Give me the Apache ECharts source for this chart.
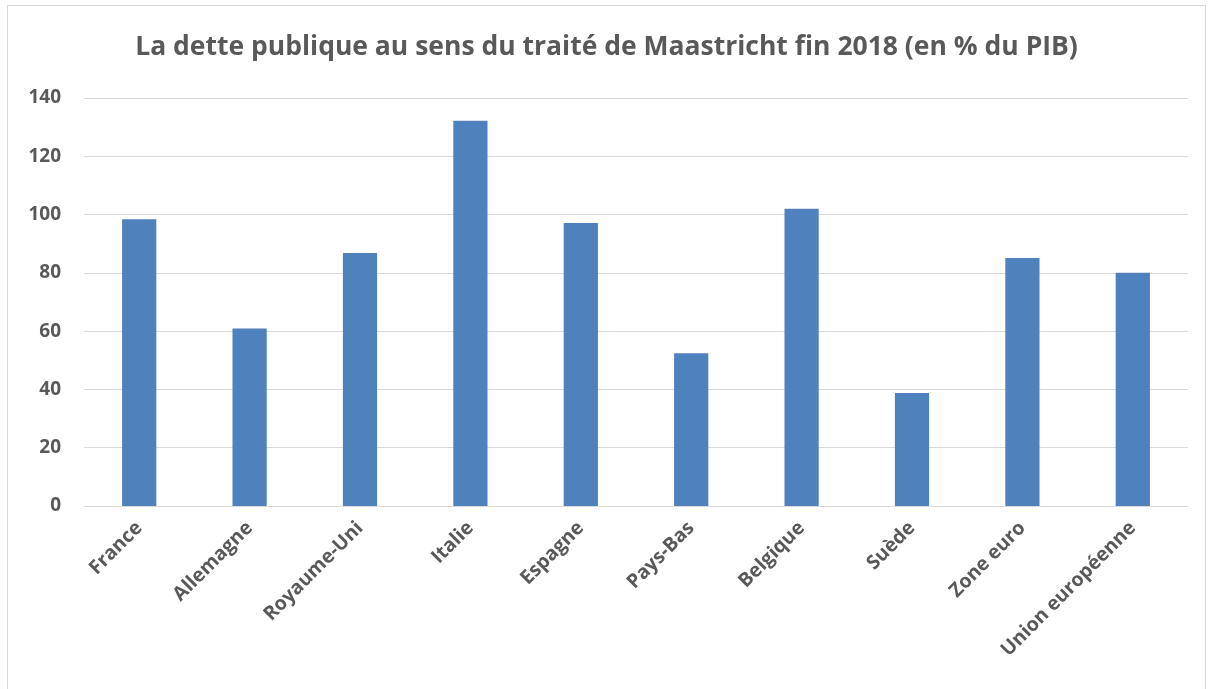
<!DOCTYPE html>
<html>
<head>
    <meta charset="utf-8">
    <title>La dette publique fin 2018</title>
    <script src="https://cdn.jsdelivr.net/npm/echarts@6/dist/echarts.min.js"></script>
    <style>
        html, body { margin: 0; padding: 0; background: #fff; }
        #frame {
            position: absolute;
            left: 7px; top: 5px;
            width: 1199px; height: 700px;
            border: 1px solid #d9d9d9;
            box-sizing: border-box;
        }
        #chart { position: absolute; left: 0; top: 0; width: 1213px; height: 689px; }
    </style>
</head>
<body>
<div id="frame"></div>
<div id="chart"></div>
<script>
    const categories = ['France', 'Allemagne', 'Royaume-Uni', 'Italie', 'Espagne',
        'Pays-Bas', 'Belgique', 'Suède', 'Zone euro', 'Union européenne'];
    const debt = [98.4, 60.9, 86.8, 132.2, 97.1, 52.4, 102.0, 38.8, 85.1, 80.0];
    const yTicks = [0, 20, 40, 60, 80, 100, 120, 140];

    const chart = echarts.init(document.getElementById('chart'));
    const font = '"Open Sans", "Liberation Sans", sans-serif';

    chart.setOption({
        animation: false,
        title: {
            text: 'La dette publique au sens du traité de Maastricht fin 2018 (en % du PIB)',
            left: 'center',
            top: 29,
            textStyle: { fontFamily: font, fontSize: 26.5, fontWeight: 'bold', color: '#595959' }
        },
        grid: { left: 84, right: 25, top: 98, bottom: 183, containLabel: false },
        xAxis: {
            type: 'category',
            data: categories,
            axisLine: { lineStyle: { color: '#d9d9d9', width: 1 } },
            axisTick: { show: false },
            axisLabel: {
                rotate: 45,
                interval: 0,
                margin: 19,
                fontFamily: font,
                fontSize: 19.5,
                fontWeight: 'bold',
                color: '#595959'
            }
        },
        yAxis: {
            type: 'value',
            min: yTicks[0],
            max: yTicks[yTicks.length - 1],
            interval: 20,
            axisLine: { show: false },
            axisTick: { show: false },
            splitLine: { lineStyle: { color: '#d9d9d9', width: 1 } },
            axisLabel: {
                margin: 23,
                fontFamily: font,
                fontSize: 19,
                fontWeight: 'bold',
                color: '#595959'
            }
        },
        series: [{
            type: 'bar',
            data: debt,
            barWidth: '31%',
            itemStyle: { color: '#4f81bd' }
        }]
    });
</script>
</body>
</html>
